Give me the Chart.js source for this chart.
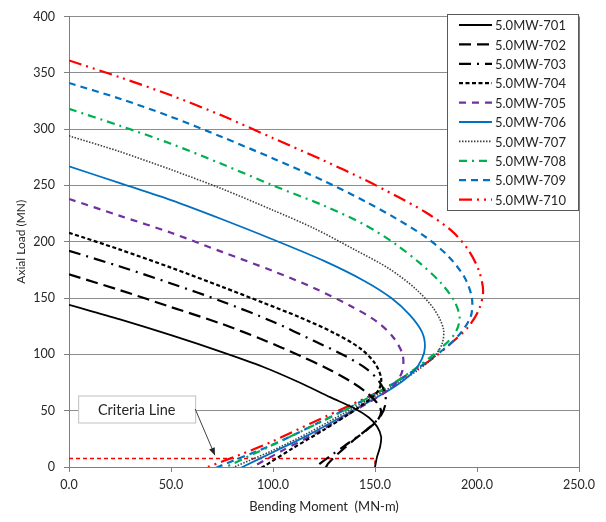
<!DOCTYPE html>
<html>
<head>
<meta charset="utf-8">
<script src="https://cdn.jsdelivr.net/npm/chart.js@4/dist/chart.umd.min.js"></script>
<style>
  html, body { margin: 0; padding: 0; background: #fff; }
</style>
</head>
<body>
<canvas id="chart" width="606" height="522"></canvas>
<script>
// series names
const seriesNames = ['5.0MW-701', '5.0MW-702', '5.0MW-703', '5.0MW-704', '5.0MW-705',
                     '5.0MW-706', '5.0MW-707', '5.0MW-708', '5.0MW-709', '5.0MW-710'];

// bending moment (MN-m) / axial load (MN) along each curve, top to bottom
const m701 = [0, 25, 50, 75, 95, 113, 128, 140, 147, 151, 153, 152.5, 151, 150, 149.5];
const p701 = [144, 131, 117, 102, 89, 75, 62, 52, 44, 36, 27, 18, 9, 0, -4];

const m702 = [0, 25, 50, 75, 95, 113, 127, 138, 146, 151, 153, 151, 146, 139, 132, 127, 126, 125];
const p702 = [171, 157, 142, 127, 113, 99, 87, 76, 66, 57, 49, 41, 33, 23, 12, 3, 0, -3];

const m703 = [0, 25, 50, 75, 100, 120, 135, 146, 152, 155, 155, 153, 149, 143, 136, 129, 123, 121, 119];
const p703 = [192, 178, 163, 147, 129, 112, 99, 87, 76, 65, 55, 46, 38, 29, 20, 11, 3, 0, -3];

const m704 = [0, 25, 50, 75, 95, 113, 130, 143, 150, 153, 152, 148, 138, 124, 110, 95, 92];
const p704 = [208, 193, 177, 160, 146, 133, 119, 105, 92, 79, 69, 61, 48, 32, 17, 0, -3];

const m705 = [0, 25, 50, 75, 100, 120, 138, 151, 159, 163.5, 163.5, 160, 153, 138, 121, 105, 90, 87];
const p705 = [238, 223, 208, 191, 174, 159, 143, 129, 115, 100, 86, 74, 64, 48, 30, 15, 0, -3];

const m706 = [0, 25, 50, 75, 100, 125, 145, 158, 167, 173, 174.5, 173, 169, 161, 151, 135, 118, 101, 85, 82];
const p706 = [267, 252, 237, 220, 202, 183, 165, 150, 135, 120, 107, 96, 85, 73, 62, 46, 29, 14, 0, -3];

const m707 = [0, 25, 50, 75, 100, 120, 140, 157, 170, 179, 183.5, 183, 179, 171, 161, 150, 135, 117, 99, 81, 78];
const p707 = [294, 280, 264, 247, 228, 212, 193, 176, 158, 140, 123, 110, 98, 86, 74, 63, 48, 30, 14, 0, -3];

const m708 = [0, 25, 50, 75, 100, 125, 145, 160, 172, 182, 189, 191.5, 189, 182, 171, 157, 140, 120, 98, 77, 74];
const p708 = [318, 303, 287, 269, 250, 232, 215, 198, 181, 164, 147, 132, 118, 105, 89, 72, 55, 37, 18, 0, -3];

const m709 = [0, 25, 50, 75, 100, 125, 145, 160, 175, 186, 194, 197.5, 197, 192, 184, 172, 158, 142, 122, 100, 73, 70];
const p709 = [341, 327, 311, 293, 274, 254, 236, 221, 204, 187, 168, 150, 134, 119, 105, 89, 73, 57, 39, 20, 0, -3];

const m710 = [0, 25, 50, 75, 100, 125, 145, 160, 175, 188, 196, 201, 203, 201, 196, 188, 178, 166, 153, 138, 120, 100, 84, 68, 64];
const p710 = [361, 346, 330, 312, 292, 272, 255, 241, 226, 209, 192, 174, 156, 140, 125, 111, 96, 82, 68, 55, 40, 23, 11, 0, -3];

// criteria line
const critM = [0, 150, 150];
const critP = [7.5, 7.5, 0];

const moments = [m701, m702, m703, m704, m705, m706, m707, m708, m709, m710];
const loads = [p701, p702, p703, p704, p705, p706, p707, p708, p709, p710];

// line styles
const colors = ['#000000', '#000000', '#000000', '#000000', '#7030A0',
                '#0070C0', '#404040', '#00B050', '#0070C0', '#FF0000'];
const dashes = [[], [12, 6], [12, 6, 2, 6], [4, 2.5], [7, 6],
                [], [1.5, 1.5], [8, 5, 2, 5], [7, 5], [13, 5, 2, 5, 2, 5]];
const widths = [1.8, 2.2, 2.2, 2.2, 2.2, 1.8, 1.6, 2.2, 2.2, 2.2];

const pts = (xs, ys) => xs.map((x, i) => ({ x: x, y: ys[i] }));

const datasets = seriesNames.map((name, i) => ({
  label: name,
  data: pts(moments[i], loads[i]),
  showLine: true,
  borderColor: colors[i],
  backgroundColor: colors[i],
  borderDash: dashes[i],
  borderWidth: widths[i],
  pointRadius: 0,
  tension: 0.3,
  fill: false
}));
datasets.push({
  label: 'Criteria',
  data: pts(critM, critP),
  showLine: true,
  borderColor: '#FF0000',
  borderDash: [4, 3],
  borderWidth: 1.6,
  pointRadius: 0,
  tension: 0,
  fill: false
});

const FONT = 'Lato';

// legend box drawn inside the plot area, top right
const boxLegend = {
  id: 'boxLegend',
  afterDatasetsDraw(chart) {
    const ctx = chart.ctx;
    const x0 = 447.5, y0 = 14.5, w = 131, h = 196;
    ctx.save();
    ctx.fillStyle = '#fff';
    ctx.fillRect(x0, y0, w, h);
    ctx.strokeStyle = '#595959';
    ctx.lineWidth = 1;
    ctx.strokeRect(x0, y0, w, h);
    ctx.font = '13px ' + FONT;
    ctx.textBaseline = 'middle';
    ctx.fillStyle = '#262626';
    for (let i = 0; i < seriesNames.length; i++) {
      const yy = 25 + i * 19.4;
      ctx.beginPath();
      ctx.setLineDash(dashes[i]);
      ctx.strokeStyle = colors[i];
      ctx.lineWidth = widths[i];
      ctx.moveTo(459, yy);
      ctx.lineTo(492, yy);
      ctx.stroke();
      ctx.setLineDash([]);
      ctx.fillText(seriesNames[i], 495, yy + 1);
    }
    ctx.restore();
  }
};

// "Criteria Line" callout with arrow
const callout = {
  id: 'callout',
  afterDatasetsDraw(chart) {
    const ctx = chart.ctx;
    const xs = chart.scales.x, ys = chart.scales.y;
    const bx = xs.getPixelForValue(4.5), by = ys.getPixelForValue(63.5);
    const bw = 117, bh = 27;
    ctx.save();
    ctx.fillStyle = '#fff';
    ctx.fillRect(bx, by, bw, bh);
    ctx.strokeStyle = '#bfbfbf';
    ctx.lineWidth = 1;
    ctx.strokeRect(bx + 0.5, by + 0.5, bw, bh);
    ctx.fillStyle = '#262626';
    ctx.font = '14.5px ' + FONT;
    ctx.textAlign = 'center';
    ctx.textBaseline = 'middle';
    ctx.fillText('Criteria Line', bx + bw / 2, by + bh / 2 + 1);
    // arrow
    const sx = bx + bw, sy = by + bh / 2;
    const tx = xs.getPixelForValue(71.5), ty = ys.getPixelForValue(10.5);
    ctx.strokeStyle = '#404040';
    ctx.lineWidth = 1;
    ctx.beginPath();
    ctx.moveTo(sx, sy);
    ctx.lineTo(tx, ty);
    ctx.stroke();
    const ang = Math.atan2(ty - sy, tx - sx);
    ctx.fillStyle = '#262626';
    ctx.beginPath();
    ctx.moveTo(tx, ty);
    ctx.lineTo(tx - 8 * Math.cos(ang - 0.4), ty - 8 * Math.sin(ang - 0.4));
    ctx.lineTo(tx - 8 * Math.cos(ang + 0.4), ty - 8 * Math.sin(ang + 0.4));
    ctx.closePath();
    ctx.fill();
    ctx.restore();
  }
};

new Chart(document.getElementById('chart'), {
  type: 'scatter',
  data: { datasets: datasets },
  plugins: [callout, boxLegend],
  options: {
    responsive: false,
    animation: false,
    layout: { padding: { left: 0, right: 27, top: 13, bottom: 0 } },
    plugins: {
      legend: { display: false },
      tooltip: { enabled: false }
    },
    scales: {
      x: {
        type: 'linear',
        min: 0,
        max: 250,
        afterFit: s => { s.height = 55; },
        ticks: {
          stepSize: 50,
          padding: 5,
          color: '#262626',
          font: { family: FONT, size: 12.5 },
          callback: v => v.toFixed(1)
        },
        grid: {
          color: c => (c.tick && c.tick.value === 250) ? '#7f7f7f' : 'rgba(0,0,0,0)',
          tickColor: '#7f7f7f',
          tickLength: 5,
          lineWidth: 1
        },
        border: { color: '#7f7f7f', width: 1 },
        title: {
          display: true,
          text: 'Bending Moment  (MN-m)',
          color: '#262626',
          font: { family: FONT, size: 13 },
          padding: { top: 0, bottom: 7 }
        }
      },
      y: {
        type: 'linear',
        min: 0,
        max: 400,
        afterFit: s => { s.width = 69; },
        ticks: {
          stepSize: 50,
          padding: 9,
          color: '#262626',
          font: { family: FONT, size: 12.5 }
        },
        grid: {
          color: '#8c8c8c',
          tickColor: '#7f7f7f',
          tickLength: 5,
          lineWidth: 1
        },
        border: { color: '#7f7f7f', width: 1 },
        title: {
          display: true,
          text: 'Axial Load (MN)',
          color: '#262626',
          font: { family: FONT, size: 12 },
          padding: { top: 14, bottom: 0 }
        }
      }
    }
  }
});
</script>
</body>
</html>
